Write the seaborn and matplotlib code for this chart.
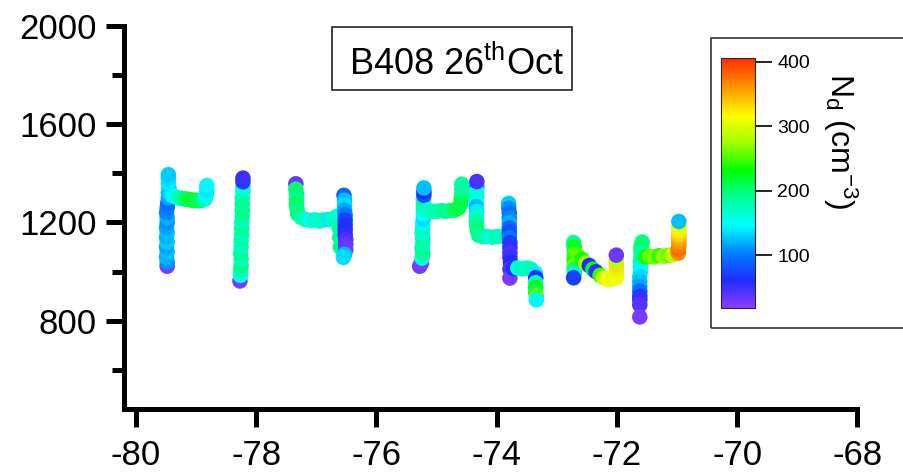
import numpy as np
import pandas as pd
import matplotlib
matplotlib.use("Agg")
import matplotlib.pyplot as plt
import seaborn as sns
from matplotlib.colors import LinearSegmentedColormap, Normalize
from matplotlib.cm import ScalarMappable
from matplotlib.patches import Rectangle

# ---------------- data (longitude, altitude [m], Nd [cm^-3]) ----------------
legA_lon = [-79.48, -79.48, -79.49, -79.48, -79.49, -79.48, -79.49, -79.48, -79.49, -79.48,
            -79.48, -79.49, -79.48, -79.47, -79.46, -79.46, -79.45, -79.46, -79.46, -79.46,
            -79.40, -79.35, -79.30, -79.25, -79.20, -79.15, -79.10, -79.05, -79.00, -78.95,
            -78.90, -78.85, -78.83, -78.82, -78.82]
legA_alt = [1022, 1040, 1060, 1080, 1100, 1120, 1140, 1160, 1180, 1200,
            1220, 1240, 1260, 1280, 1300, 1320, 1340, 1360, 1380, 1394,
            1310, 1305, 1300, 1298, 1295, 1295, 1292, 1290, 1290, 1288,
            1290, 1295, 1310, 1330, 1350]
legA_nd = [25, 110, 120, 125, 115, 130, 120, 125, 115, 110,
           120, 105, 100, 95, 115, 125, 130, 140, 135, 130,
           140, 150, 165, 180, 195, 205, 215, 220, 215, 210,
           200, 170, 150, 140, 145]

legB_lon = [-78.27, -78.26, -78.26, -78.25, -78.25, -78.26, -78.25, -78.25, -78.24, -78.24,
            -78.24, -78.23, -78.23, -78.23, -78.23, -78.22, -78.22, -78.22, -78.22]
legB_alt = [962, 985, 1005, 1025, 1050, 1075, 1100, 1125, 1150, 1175,
            1200, 1225, 1250, 1275, 1300, 1325, 1345, 1365, 1380]
legB_nd = [25, 150, 175, 195, 180, 190, 170, 185, 175, 190,
           180, 185, 195, 190, 185, 180, 160, 70, 50]

legC_lon = [-77.34, -77.34, -77.33, -77.33, -77.33, -77.32, -77.31,
            -77.25, -77.18, -77.10, -77.02, -76.95, -76.88, -76.80, -76.72, -76.65,
            -76.62, -76.61, -76.60,
            -76.54, -76.53, -76.53, -76.53, -76.52, -76.52, -76.52, -76.52, -76.52,
            -76.51, -76.51, -76.51, -76.53, -76.55]
legC_alt = [1357, 1335, 1315, 1295, 1275, 1255, 1235,
            1220, 1212, 1208, 1210, 1205, 1210, 1212, 1215, 1225,
            1180, 1140, 1100,
            1310, 1290, 1270, 1250, 1230, 1210, 1190, 1170, 1150,
            1130, 1110, 1090, 1070, 1058]
legC_nd = [30, 200, 205, 190, 205, 195, 200,
           185, 175, 150, 170, 160, 180, 140, 175, 165,
           190, 185, 195,
           90, 125, 135, 115, 100, 75, 65, 60, 55,
           45, 35, 30, 125, 135]

legD_lon = [-75.28, -75.25, -75.24, -75.23, -75.24, -75.23, -75.23, -75.24, -75.23, -75.23,
            -75.22, -75.22, -75.22, -75.22, -75.22, -75.21, -75.21, -75.21,
            -75.15, -75.08, -75.00, -74.92, -74.85, -74.78, -74.70, -74.64, -74.60, -74.59,
            -74.58, -74.58, -74.58,
            -74.33, -74.33, -74.33, -74.34, -74.34, -74.33, -74.34, -74.34, -74.33, -74.32,
            -74.30, -74.33,
            -74.24, -74.16, -74.08, -74.00, -73.92,
            -73.80, -73.80, -73.79, -73.79, -73.79, -73.79, -73.79, -73.79, -73.78, -73.78,
            -73.78, -73.78, -73.77, -73.78, -73.78,
            -73.72, -73.65, -73.58, -73.50, -73.43,
            -73.36, -73.35, -73.35, -73.35, -73.35, -73.34, -73.34]
legD_alt = [1022, 1035, 1055, 1075, 1095, 1115, 1135, 1155, 1175, 1195,
            1215, 1235, 1255, 1275, 1295, 1310, 1325, 1340,
            1250, 1245, 1245, 1248, 1245, 1248, 1250, 1258, 1275, 1295,
            1315, 1335, 1355,
            1345, 1325, 1305, 1285, 1265, 1245, 1225, 1205, 1185, 1165,
            1148, 1366,
            1143, 1143, 1140, 1142, 1143,
            1277, 1258, 1238, 1218, 1198, 1178, 1158, 1138, 1118, 1098,
            1078, 1058, 1038, 1010, 974,
            1012, 1015, 1012, 1015, 1010,
            995, 975, 955, 935, 915, 900, 885]
legD_nd = [30, 25, 160, 185, 195, 175, 190, 165, 180, 145,
           135, 150, 165, 175, 190, 80, 60, 125,
           165, 175, 180, 185, 195, 190, 205, 215, 210, 215,
           205, 190, 185,
           115, 145, 165, 155, 125, 140, 170, 180, 190, 200,
           195, 45,
           190, 175, 160, 180, 170,
           130, 110, 95, 105, 120, 90, 80, 100, 70, 55,
           45, 50, 60, 40, 25,
           60, 160, 175, 165, 185,
           140, 65, 175, 235, 205, 260, 145]

legE_lon = [-72.72, -72.71, -72.71, -72.71, -72.71, -72.71, -72.71, -72.71, -72.71, -72.72,
            -72.65, -72.58, -72.52, -72.46, -72.40, -72.35, -72.28, -72.22, -72.15, -72.08,
            -72.01, -72.01, -72.01, -72.01, -72.01, -72.01]
legE_alt = [1118, 1100, 1085, 1070, 1055, 1040, 1025, 1010, 995, 975,
            1065, 1050, 1035, 1025, 1010, 1000, 985, 975, 968, 970,
            975, 990, 1005, 1025, 1045, 1067]
legE_nd = [185, 235, 215, 255, 245, 225, 265, 205, 175, 70,
           255, 235, 275, 60, 225, 55, 245, 295, 315, 305,
           310, 320, 300, 330, 285, 30]

legF_lon = [-71.58, -71.60, -71.60, -71.60, -71.61, -71.61, -71.61, -71.62, -71.62, -71.62,
            -71.62, -71.62, -71.62, -71.62, -71.62,
            -71.52, -71.45, -71.38, -71.30, -71.22, -71.15, -71.08,
            -70.98, -70.98, -70.97, -70.97, -70.97, -70.97, -70.97, -70.97, -70.97]
legF_alt = [1120, 1100, 1080, 1060, 1040, 1020, 1000, 980, 960, 940,
            920, 900, 885, 865, 816,
            1060, 1062, 1060, 1065, 1062, 1066, 1068,
            1075, 1090, 1105, 1120, 1135, 1150, 1165, 1180, 1204]
legF_nd = [195, 205, 190, 175, 195, 165, 145, 135, 125, 115,
           95, 70, 50, 40, 25,
           235, 255, 265, 245, 275, 260, 285,
           365, 380, 370, 360, 350, 335, 325, 305, 125]

xticks = [-80, -78, -76, -74, -72, -70, -68]
yticks = [800, 1200, 1600, 2000]
cbar_ticks = [100, 200, 300, 400]

# ---------------- build frame ----------------
df = pd.DataFrame({
    "lon": legA_lon + legB_lon + legC_lon + legD_lon + legE_lon + legF_lon,
    "alt": legA_alt + legB_alt + legC_alt + legD_alt + legE_alt + legF_alt,
    "nd": legA_nd + legB_nd + legC_nd + legD_nd + legE_nd + legF_nd,
})

sns.set_style("ticks")
plt.rcParams["font.family"] = ["Liberation Sans", "DejaVu Sans"]
plt.rcParams["mathtext.fontset"] = "custom"
plt.rcParams["mathtext.rm"] = "Liberation Sans"
plt.rcParams["mathtext.it"] = "Liberation Sans:italic"
plt.rcParams["mathtext.bf"] = "Liberation Sans:bold"
plt.rcParams["axes.unicode_minus"] = False
plt.rcParams["text.color"] = "black"
plt.rcParams["xtick.color"] = "black"
plt.rcParams["ytick.color"] = "black"
plt.rcParams["xtick.labelcolor"] = "black"
plt.rcParams["ytick.labelcolor"] = "black"

cmap = LinearSegmentedColormap.from_list("nd_rainbow", [
    (0.00, "#8a3cff"),
    (0.11, "#1f2cff"),
    (0.22, "#0080ff"),
    (0.33, "#00ffff"),
    (0.45, "#00ff90"),
    (0.55, "#00ff00"),
    (0.67, "#aaff00"),
    (0.77, "#ffff00"),
    (0.87, "#ffa000"),
    (1.00, "#ff3000"),
])
norm = Normalize(vmin=18, vmax=406)

fig = plt.figure(figsize=(9.04, 4.74), dpi=100)
ax = fig.add_axes([0.1377, 0.1361, 0.8108, 0.8101])

sns.scatterplot(data=df, x="lon", y="alt", hue="nd", palette=cmap, hue_norm=norm,
                s=125, linewidth=0, legend=False, ax=ax, zorder=3)

ax.set_xlim(-80.19, -68)
ax.set_ylim(440, 2000)
ax.set_xticks(xticks)
ax.set_xticklabels([str(t) for t in xticks])
ax.set_yticks(yticks)
ax.set_yticks([600, 1000, 1400, 1800], minor=True)
ax.set_xlabel("")
ax.set_ylabel("")
for side in ["top", "right"]:
    ax.spines[side].set_visible(False)
for side in ["left", "bottom"]:
    ax.spines[side].set_linewidth(3.6)
    ax.spines[side].set_color("black")
    ax.spines[side].set_capstyle("projecting")
ax.tick_params(axis="both", which="major", length=13, width=3.6, color="black")
ax.tick_params(axis="y", which="minor", length=8.5, width=3.6, color="black")
ax.tick_params(axis="x", labelsize=25, pad=8, labelcolor="black")
ax.tick_params(axis="y", labelsize=25, pad=7, labelcolor="black")

# title box
fig.patches.append(Rectangle((332 / 904, (474 - 90) / 474), 240 / 904, 63 / 474,
                             transform=fig.transFigure, fill=False, ec="#222222", lw=1.2))
fig.text(456 / 904, (474 - 75) / 474, r"B408 26$^{\mathrm{th}}$Oct", ha="center",
         va="baseline", size=26, color="black")

# colorbar with frame
fig.patches.append(Rectangle((711 / 904, (474 - 328) / 474), 200 / 904, 290 / 474,
                             transform=fig.transFigure, fill=False, ec="#333333", lw=1.2))
cax = fig.add_axes([721 / 904, (474 - 308) / 474, 34 / 904, 250 / 474])
sm = ScalarMappable(norm=norm, cmap=cmap)
cb = fig.colorbar(sm, cax=cax)
cb.set_ticks(cbar_ticks)
cb.set_ticklabels([str(t) for t in cbar_ticks])
cb.outline.set_linewidth(0.8)
cax.tick_params(length=12, width=1.2, labelsize=14, pad=4, labelcolor="black", color="black")
fig.text(840 / 904, (474 - 73) / 474, r"N$_{\mathrm{d}}$ (cm$^{-3}$)", rotation=-90,
         ha="center", va="top", size=23, color="black")

fig.savefig("out.png", dpi=100)
